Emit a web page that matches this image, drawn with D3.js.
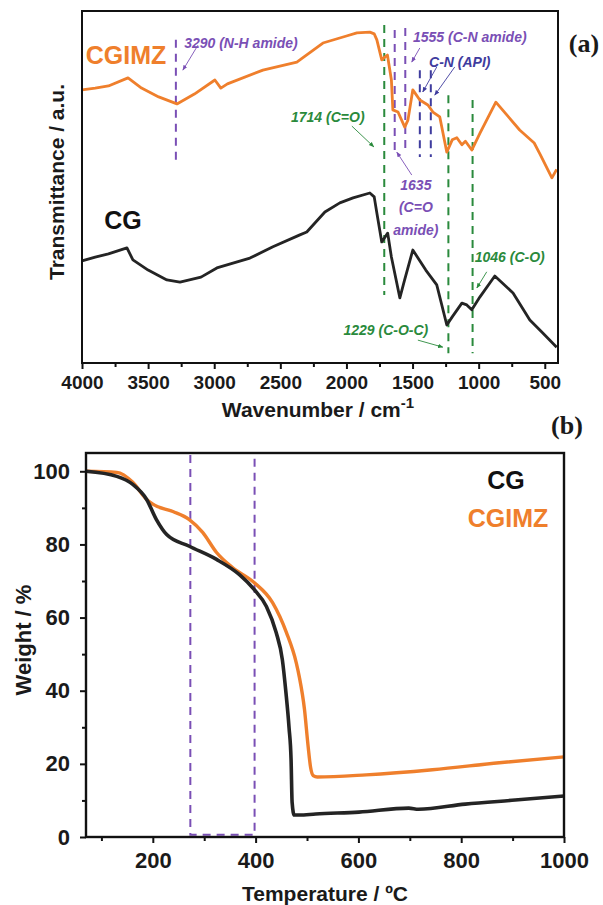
<!DOCTYPE html>
<html>
<head>
<meta charset="utf-8">
<script src="https://cdn.jsdelivr.net/npm/d3@7"></script>
<style>
body { margin: 0; background: #fff; }
text { font-family: "Liberation Sans", Arial, sans-serif; }
</style>
</head>
<body>
<script>
var width = 603;
var height = 905;

// FTIR spectra (wavenumber, transmittance a.u.)
var ftirWn = [4000, 3900, 3800, 3652, 3550, 3420, 3282, 3150, 2995, 2950, 2900, 2632, 2375, 2352, 2178, 2000, 1921, 1823, 1790, 1770, 1733, 1710, 1690, 1660, 1649, 1610, 1559, 1535, 1498, 1445, 1384, 1346, 1294, 1241, 1200, 1165, 1127, 1100, 1052, 990, 870, 690, 580, 537, 484, 446, 410];
var cgimzT = [77.6, 78.1, 78.7, 81.0, 78.1, 75.6, 73.6, 76.4, 80.4, 78.1, 79.3, 83.2, 85.5, 86.1, 90.9, 92.9, 93.8, 94.0, 93.5, 91.8, 86.1, 86.9, 87.5, 80.4, 71.9, 71.3, 67.0, 69.0, 77.6, 74.7, 73.3, 71.3, 69.9, 59.9, 63.4, 64.0, 62.0, 63.0, 60.5, 65.3, 74.1, 66.2, 62.5, 59.4, 55.4, 52.6, 55.0];
var cgWn = [4000, 3900, 3800, 3660, 3615, 3500, 3358, 3259, 3100, 2980, 2730, 2556, 2352, 2300, 2163, 2050, 1950, 1823, 1790, 1770, 1733, 1688, 1660, 1596, 1560, 1498, 1400, 1317, 1241, 1200, 1127, 1090, 1052, 990, 878, 740, 613, 515, 410];
var cgT = [29.0, 30.1, 31.0, 32.7, 29.3, 26.4, 23.6, 23.0, 24.4, 27.0, 29.8, 33.0, 36.4, 37.2, 42.9, 45.5, 46.9, 48.3, 47.2, 42.6, 34.4, 36.9, 30.1, 18.5, 23.6, 32.1, 26.4, 22.2, 10.8, 13.1, 17.0, 16.5, 15.1, 18.8, 24.7, 19.9, 12.2, 8.5, 4.5];
var ftirTicks = [4000, 3500, 3000, 2500, 2000, 1500, 1000, 500];

// band assignments
var peakWn = [3290, 1714, 1635, 1555, 1445, 1362, 1229, 1046];
var peakGroup = ["amide", "ester", "amide", "amide", "api", "api", "ester", "ester"];

// TGA (temperature, weight %)
var cgTemp = [70, 130, 161, 188, 207, 227, 271, 324, 368, 397, 421, 440, 452, 459, 465, 469, 471, 475, 485, 517, 601, 698, 717, 808, 905, 1000];
var cgWeight = [100, 98.6, 96.4, 92.3, 86.8, 82.7, 79.5, 75.9, 71.8, 67.7, 63.0, 55.9, 48.5, 39.5, 30, 21.1, 9.5, 6.0, 6.0, 6.3, 6.8, 7.9, 7.6, 9.0, 10.1, 11.2];
var cgimzTemp = [70, 130, 161, 188, 200, 239, 271, 297, 324, 355, 397, 433, 460, 479, 485, 495, 502, 507, 512, 520, 615, 744, 874, 1000];
var cgimzWeight = [100, 99.7, 97, 92.3, 91, 89, 86.8, 83.3, 77.8, 73.7, 69.6, 64.1, 55.9, 47.7, 43.8, 35, 25, 19, 16.8, 16.4, 17.0, 18.4, 20.3, 21.9];
var tgaTicks = [200, 400, 600, 800, 1000];
var weightTicks = [0, 20, 40, 60, 80, 100];
var dtgWindow = [273, 398];

var orange = "#ef7f2c";
var black = "#242424";
var purple = "#7a4fb5";
var navy = "#3f3c9e";
var green = "#2a8a3c";
var groupColor = { amide: purple, api: navy, ester: green };

var canvas = d3.select("body")
	.append("svg")
	.attr("width", width)
	.attr("height", height);

function styleTicks(g, size){
	g.select(".domain").remove();
	g.selectAll("line").attr("stroke", "#111").attr("stroke-width", 2);
	g.selectAll("text")
		.attr("fill", "#1a1a1a")
		.style("font-size", size + "px")
		.style("font-weight", "bold");
}

function drawFtir(){
	var x = d3.scaleLinear().domain([4000, 400]).range([82, 558]);
	var y = d3.scaleLinear().domain([0, 100]).range([363, 11]);

	var line = d3.line()
		.x(function(d){ return x(d[0]); })
		.y(function(d){ return y(d[1]); });

	// band markers
	var extents = { 3290: [91.8, 56.3], 1714: [96, 19.3], 1635: [94.6, 59.1], 1555: [95.2, 60.5],
		1445: [83.2, 58.5], 1362: [83.2, 58.5], 1229: [76.1, 2.8], 1046: [74.7, 2.8] };
	canvas.append("g").selectAll("line")
		.data(peakWn)
		.enter()
			.append("line")
			.attr("x1", function(d){ return x(d); })
			.attr("x2", function(d){ return x(d); })
			.attr("y1", function(d){ return y(extents[d][0]); })
			.attr("y2", function(d){ return y(extents[d][1]); })
			.attr("stroke", function(d, i){ return groupColor[peakGroup[i]]; })
			.attr("stroke-width", 2)
			.attr("stroke-dasharray", "8,6");

	canvas.append("path")
		.datum(d3.zip(cgWn, cgT))
		.attr("d", line)
		.attr("fill", "none")
		.attr("stroke", black)
		.attr("stroke-width", 2.8)
		.attr("stroke-linejoin", "round");
	canvas.append("path")
		.datum(d3.zip(ftirWn, cgimzT))
		.attr("d", line)
		.attr("fill", "none")
		.attr("stroke", orange)
		.attr("stroke-width", 2.8)
		.attr("stroke-linejoin", "round");

	// frame
	canvas.append("rect")
		.attr("x", 82).attr("y", 11)
		.attr("width", 476).attr("height", 352)
		.attr("fill", "none")
		.attr("stroke", "#111")
		.attr("stroke-width", 2);

	var minor = ftirTicks.map(function(d){ return d - 250; }).filter(function(d){ return d > 400; });
	canvas.append("g")
		.attr("transform", "translate(0,363)")
		.call(d3.axisBottom(x).tickValues(minor).tickFormat("").tickSize(4))
		.call(styleTicks, 19);
	canvas.append("g")
		.attr("transform", "translate(0,363)")
		.call(d3.axisBottom(x).tickValues(ftirTicks).tickFormat(d3.format("d")).tickSize(6).tickPadding(7))
		.call(styleTicks, 19);

	// annotations
	var notes = [
		{ t: "3290 (N-H amide)", wn: 2798, v: 91.0, c: purple, from: [3123, 90.3], to: [3237, 83.2] },
		{ t: "1714 (C=O)", wn: 2141, v: 69.9, c: green, from: [1959, 67.3], to: [1793, 61.4] },
		{ t: "1555 (C-N amide)", wn: 1067, v: 92.7, c: purple, from: [1445, 89.5], to: [1506, 85.5] },
		{ t: "C-N (API)", wn: 1143, v: 85.5, c: navy, from: [1317, 84.1], to: [1423, 77] },
		{ t: "C-N (API)", wn: null, v: 0, c: navy, from: [1181, 84.1], to: [1332, 76.1] },
		{ t: "1229 (C-O-C)", wn: 1702, v: 9.4, c: green, from: [1460, 6.5], to: [1271, 4.5] },
		{ t: "1046 (C-O)", wn: 765, v: 30.1, c: green, from: [939, 25.9], to: [1014, 21.3] }
	];
	var defs = canvas.append("defs");
	[purple, navy, green].forEach(function(c, i){
		defs.append("marker")
			.attr("id", "arr" + i)
			.attr("viewBox", "0 0 10 10")
			.attr("refX", 9).attr("refY", 5)
			.attr("markerWidth", 6).attr("markerHeight", 6)
			.attr("orient", "auto")
			.append("path")
				.attr("d", "M0,1L10,5L0,9z")
				.attr("fill", c);
	});
	var markerId = function(c){ return c == purple ? "arr0" : (c == navy ? "arr1" : "arr2"); };

	notes.forEach(function(n){
		canvas.append("line")
			.attr("x1", x(n.from[0])).attr("y1", y(n.from[1]))
			.attr("x2", x(n.to[0])).attr("y2", y(n.to[1]))
			.attr("stroke", n.c)
			.attr("stroke-width", 0.9)
			.attr("marker-end", "url(#" + markerId(n.c) + ")");
		if (n.wn === null) return;
		canvas.append("text")
			.attr("x", x(n.wn))
			.attr("y", y(n.v))
			.attr("dy", "0.35em")
			.attr("text-anchor", "middle")
			.attr("fill", n.c)
			.style("font-size", "14px")
			.style("font-weight", "bold")
			.style("font-style", "italic")
			.text(n.t);
	});

	// 1635 label in three lines
	var lab = canvas.append("text")
		.attr("fill", purple)
		.attr("text-anchor", "middle")
		.style("font-size", "14px")
		.style("font-weight", "bold")
		.style("font-style", "italic");
	["1635", "(C=O", "amide)"].forEach(function(s, i){
		lab.append("tspan")
			.attr("x", x(1475))
			.attr("y", y(50.6 - i * 6.4))
			.attr("dy", "0.35em")
			.text(s);
	});
	canvas.append("line")
		.attr("x1", x(1506)).attr("y1", y(53.4))
		.attr("x2", x(1619)).attr("y2", y(59.9))
		.attr("stroke", purple)
		.attr("stroke-width", 0.9)
		.attr("marker-end", "url(#arr0)");

	canvas.append("text")
		.attr("x", 126).attr("y", 55).attr("dy", "0.35em")
		.attr("text-anchor", "middle")
		.attr("fill", orange)
		.style("font-size", "25px").style("font-weight", "bold")
		.text("CGIMZ");
	canvas.append("text")
		.attr("x", 123).attr("y", 220).attr("dy", "0.35em")
		.attr("text-anchor", "middle")
		.attr("fill", "#111")
		.style("font-size", "25px").style("font-weight", "bold")
		.text("CG");

	canvas.append("text")
		.attr("transform", "translate(57,182) rotate(-90)")
		.attr("dy", "0.35em")
		.attr("text-anchor", "middle")
		.attr("fill", "#1a1a1a")
		.style("font-size", "21px").style("font-weight", "bold")
		.text("Transmittance / a.u.");

	var xl = canvas.append("text")
		.attr("x", 318).attr("y", 410).attr("dy", "0.35em")
		.attr("text-anchor", "middle")
		.attr("fill", "#1a1a1a")
		.style("font-size", "21px").style("font-weight", "bold")
		.text("Wavenumber / cm");
	xl.append("tspan").attr("dy", "-0.6em").style("font-size", "15px").text("-1");

	canvas.append("text")
		.attr("x", 584).attr("y", 43).attr("dy", "0.35em")
		.attr("text-anchor", "middle")
		.style("font-family", "'Liberation Serif', 'Times New Roman', serif")
		.style("font-size", "26px").style("font-weight", "bold")
		.attr("fill", "#1a1a1a")
		.text("(a)");
}

function drawTga(){
	var x = d3.scaleLinear().domain([70, 1000]).range([86, 564]);
	var y = d3.scaleLinear().domain([0, 105]).range([837, 453]);

	var line = d3.line()
		.x(function(d){ return x(d[0]); })
		.y(function(d){ return y(d[1]); })
		.curve(d3.curveMonotoneX);

	canvas.append("rect")
		.attr("x", x(dtgWindow[0])).attr("y", y(105))
		.attr("width", x(dtgWindow[1]) - x(dtgWindow[0]))
		.attr("height", y(0.6) - y(105))
		.attr("fill", "none")
		.attr("stroke", purple)
		.attr("stroke-width", 2)
		.attr("stroke-dasharray", "8,6");

	canvas.append("path")
		.datum(d3.zip(cgimzTemp, cgimzWeight))
		.attr("d", line)
		.attr("fill", "none")
		.attr("stroke", orange)
		.attr("stroke-width", 3.4);
	canvas.append("path")
		.datum(d3.zip(cgTemp, cgWeight))
		.attr("d", line)
		.attr("fill", "none")
		.attr("stroke", black)
		.attr("stroke-width", 3.6);

	canvas.append("rect")
		.attr("x", 86).attr("y", 453)
		.attr("width", 478).attr("height", 384)
		.attr("fill", "none")
		.attr("stroke", "#111")
		.attr("stroke-width", 2.4);

	canvas.append("g")
		.attr("transform", "translate(0,837)")
		.call(d3.axisBottom(x).tickValues([100, 300, 500, 700, 900]).tickFormat("").tickSize(4))
		.call(styleTicks, 22);
	canvas.append("g")
		.attr("transform", "translate(0,837)")
		.call(d3.axisBottom(x).tickValues(tgaTicks).tickFormat(d3.format("d")).tickSize(6).tickPadding(9))
		.call(styleTicks, 22);
	canvas.append("g")
		.attr("transform", "translate(86,0)")
		.call(d3.axisLeft(y).tickValues([10, 30, 50, 70, 90]).tickFormat("").tickSize(4))
		.call(styleTicks, 22);
	canvas.append("g")
		.attr("transform", "translate(86,0)")
		.call(d3.axisLeft(y).tickValues(weightTicks).tickFormat(d3.format("d")).tickSize(6).tickPadding(10))
		.call(styleTicks, 22);

	canvas.append("text")
		.attr("x", 506).attr("y", 480).attr("dy", "0.35em")
		.attr("text-anchor", "middle")
		.attr("fill", "#111")
		.style("font-size", "25px").style("font-weight", "bold")
		.text("CG");
	canvas.append("text")
		.attr("x", 508).attr("y", 518).attr("dy", "0.35em")
		.attr("text-anchor", "middle")
		.attr("fill", orange)
		.style("font-size", "25px").style("font-weight", "bold")
		.text("CGIMZ");

	canvas.append("text")
		.attr("transform", "translate(23,640) rotate(-90)")
		.attr("dy", "0.35em")
		.attr("text-anchor", "middle")
		.attr("fill", "#1a1a1a")
		.style("font-size", "22px").style("font-weight", "bold")
		.text("Weight / %");

	canvas.append("text")
		.attr("x", 325).attr("y", 894).attr("dy", "0.35em")
		.attr("text-anchor", "middle")
		.attr("fill", "#1a1a1a")
		.style("font-size", "21px").style("font-weight", "bold")
		.text("Temperature / ºC");

	canvas.append("text")
		.attr("x", 567).attr("y", 425).attr("dy", "0.35em")
		.attr("text-anchor", "middle")
		.style("font-family", "'Liberation Serif', 'Times New Roman', serif")
		.style("font-size", "26px").style("font-weight", "bold")
		.attr("fill", "#1a1a1a")
		.text("(b)");
}

drawFtir();
drawTga();
</script>
</body>
</html>
